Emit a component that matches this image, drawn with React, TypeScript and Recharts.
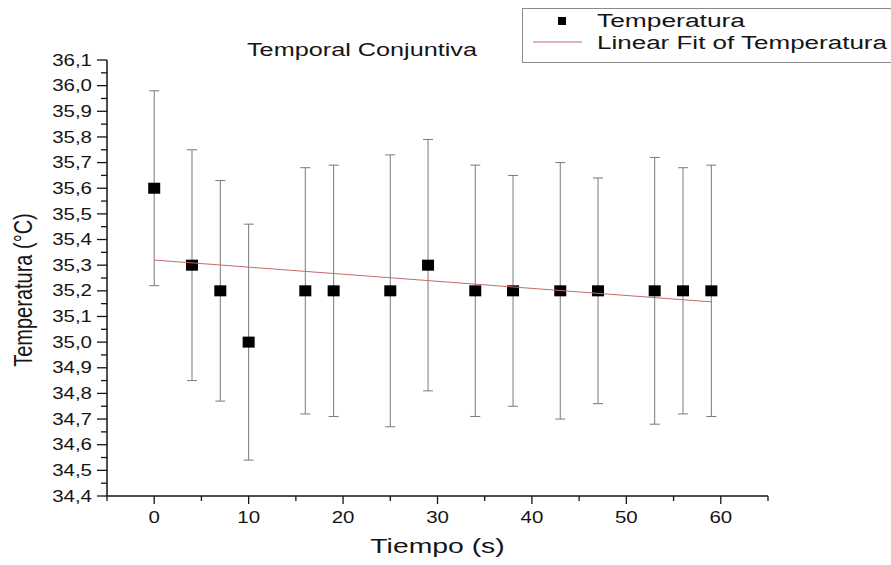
import { ComposedChart, ErrorBar, Label, Scatter, XAxis, YAxis } from "recharts";

// valores
const tiempo = [0, 4, 7, 10, 16, 19, 25, 29, 34, 38, 43, 47, 53, 56, 59];
const temperatura = [35.6, 35.3, 35.2, 35.0, 35.2, 35.2, 35.2, 35.3, 35.2, 35.2, 35.2, 35.2, 35.2, 35.2, 35.2];
const error = [0.38, 0.45, 0.43, 0.46, 0.48, 0.49, 0.53, 0.49, 0.49, 0.45, 0.5, 0.44, 0.52, 0.48, 0.49];

// extremos del ajuste lineal (Linear Fit of Temperatura)
const ajusteX = [0, 59];
const ajusteY = [35.32, 35.157];

const xTicks = [-5, 0, 5, 10, 15, 20, 25, 30, 35, 40, 45, 50, 55, 60, 65];
const yMajor = [34.4, 34.5, 34.6, 34.7, 34.8, 34.9, 35.0, 35.1, 35.2, 35.3, 35.4, 35.5, 35.6, 35.7, 35.8, 35.9, 36.0, 36.1];

const FONT = "'Liberation Sans', Arial, sans-serif";
const SX = 1.28; // el original está estirado en horizontal
const INK = "#151515";

const puntos = tiempo.map((x, i) => ({ x, y: temperatura[i], err: error[i] }));
const ajuste = ajusteX.map((x, i) => ({ x, y: ajusteY[i] }));
const yTicks = yMajor.flatMap((v, i) => (i < yMajor.length - 1 ? [v, +(v + 0.05).toFixed(2)] : [v]));

const isMajorY = (v: number) => Math.abs(v * 10 - Math.round(v * 10)) < 1e-6;
const fmtY = (v: number) => v.toFixed(1).replace(".", ",");

function YTick({ x, y, payload }: any) {
  const v = payload.value as number;
  const major = isMajorY(v);
  return (
    <g>
      <line x1={x - (major ? 10 : 6)} x2={x} y1={y} y2={y} stroke={INK} strokeWidth={1.3} />
      {major && (
        <text
          transform={`translate(${x - 15},${y}) scale(${SX},1)`}
          textAnchor="end"
          dominantBaseline="central"
          fontSize={16}
          fontFamily={FONT}
          fill={INK}
        >
          {fmtY(v)}
        </text>
      )}
    </g>
  );
}

function XTick({ x, y, payload }: any) {
  const v = payload.value as number;
  const major = v % 10 === 0;
  return (
    <g>
      <line x1={x} x2={x} y1={y} y2={y + (major ? 8 : 5)} stroke={INK} strokeWidth={1.3} />
      {major && (
        <text
          transform={`translate(${x},${y + 21}) scale(${SX},1)`}
          textAnchor="middle"
          dominantBaseline="central"
          fontSize={16}
          fontFamily={FONT}
          fill={INK}
        >
          {v}
        </text>
      )}
    </g>
  );
}

const Cuadrado = ({ cx, cy }: any) => <rect x={cx - 6} y={cy - 5.5} width={12} height={11} fill="#000" />;

export default function App() {
  return (
    <div style={{ position: "absolute", left: 0, top: 0, width: 891, height: 565, background: "#fff" }}>
      <ComposedChart width={891} height={565} margin={{ top: 60, right: 123, bottom: 9, left: 7 }}>
        <XAxis
          type="number"
          dataKey="x"
          domain={[-5, 65]}
          ticks={xTicks}
          interval={0}
          height={60}
          tickSize={0}
          tickMargin={0}
          tick={<XTick />}
          axisLine={{ stroke: INK, strokeWidth: 1.5 }}
          allowDataOverflow
        >
          <Label
            content={({ viewBox }: any) => (
              <text
                transform={`translate(${viewBox.x + viewBox.width / 2},${viewBox.y + 57}) scale(1.35,1)`}
                textAnchor="middle"
                fontSize={21}
                fontFamily={FONT}
                fill={INK}
              >
                Tiempo (s)
              </text>
            )}
          />
        </XAxis>
        <YAxis
          type="number"
          dataKey="y"
          domain={[34.4, 36.1]}
          ticks={yTicks}
          interval={0}
          width={100}
          tickSize={0}
          tickMargin={0}
          tick={<YTick />}
          axisLine={{ stroke: INK, strokeWidth: 1.5 }}
          allowDataOverflow
        >
          <Label
            content={({ viewBox }: any) => (
              <text
                transform={`translate(32,${viewBox.y + viewBox.height / 2 + 12}) scale(1.3,1) rotate(-90)`}
                textAnchor="middle"
                fontSize={20}
                fontFamily={FONT}
                fill={INK}
              >
                Temperatura (°C)
              </text>
            )}
          />
        </YAxis>
        <Scatter data={puntos} fill="#000" shape={<Cuadrado />} isAnimationActive={false}>
          <ErrorBar dataKey="err" direction="y" width={5} stroke="#7a7a7a" strokeWidth={1} />
        </Scatter>
        <Scatter
          data={ajuste}
          line={{ stroke: "#c46a6a", strokeWidth: 1 }}
          shape={() => <g />}
          isAnimationActive={false}
        />
      </ComposedChart>

      <svg width={891} height={565} style={{ position: "absolute", left: 0, top: 0, pointerEvents: "none" }}>
        <text x={247} y={56} fontSize={17.5} fontFamily={FONT} fill={INK} textLength={230} lengthAdjust="spacingAndGlyphs">
          Temporal Conjuntiva
        </text>
        <rect x={522.5} y={8.5} width={380} height={54} fill="#fff" stroke="#8a8a8a" strokeWidth={1} />
        <rect x={558} y={17} width={8} height={8} fill="#000" />
        <line x1={533} x2={582} y1={42} y2={42} stroke="#c46a6a" strokeWidth={1} />
        <text x={597} y={27} fontSize={18} fontFamily={FONT} fill={INK} textLength={148} lengthAdjust="spacingAndGlyphs">
          Temperatura
        </text>
        <text x={597} y={49} fontSize={18} fontFamily={FONT} fill={INK} textLength={290} lengthAdjust="spacingAndGlyphs">
          Linear Fit of Temperatura
        </text>
      </svg>
    </div>
  );
}
